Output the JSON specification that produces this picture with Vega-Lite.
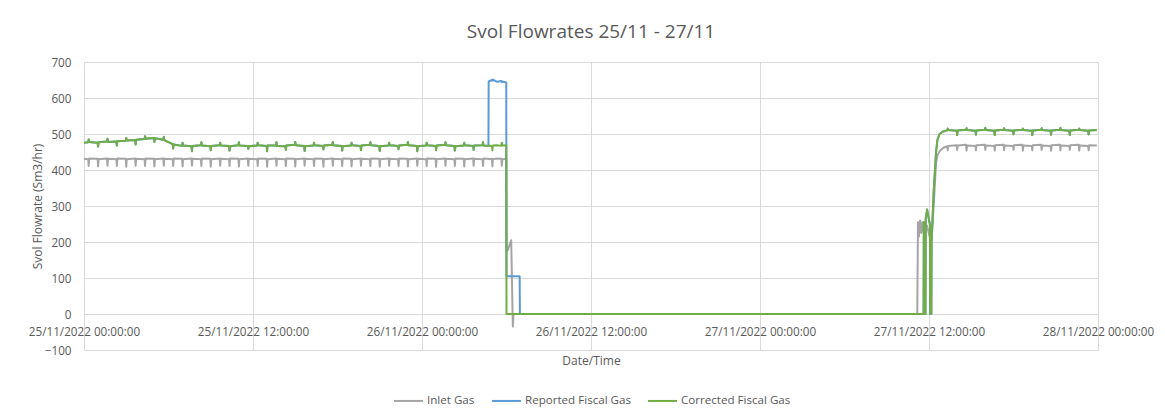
{
"$schema": "https://vega.github.io/schema/vega-lite/v6.json",
"width": 1014,
"height": 288,
"autosize": {"type": "none"},
"padding": {"left": 84, "top": 62, "right": 67, "bottom": 69},
"background": "white",
"title": {"text": "Svol Flowrates 25/11 - 27/11", "font": "Open Sans", "fontSize": 19, "fontWeight": "normal", "color": "#595959", "offset": 15},
"data": {"values": [
{"t":"2022-11-25T00:00","i":431,"r":476,"c":476},
{"t":"2022-11-25T00:18","i":430,"r":477,"c":477},
{"t":"2022-11-25T00:20","i":411,"r":485,"c":485},
{"t":"2022-11-25T00:22","i":432,"r":478,"c":478},
{"t":"2022-11-25T00:58","i":431,"r":476,"c":476},
{"t":"2022-11-25T01:00","i":410,"r":465,"c":465},
{"t":"2022-11-25T01:02","i":430,"r":477,"c":477},
{"t":"2022-11-25T01:38","i":432,"r":479,"c":479},
{"t":"2022-11-25T01:40","i":412,"r":487,"c":487},
{"t":"2022-11-25T01:42","i":431,"r":478,"c":478},
{"t":"2022-11-25T02:18","i":430,"r":479,"c":479},
{"t":"2022-11-25T02:20","i":411,"r":468,"c":468},
{"t":"2022-11-25T02:22","i":432,"r":480,"c":480},
{"t":"2022-11-25T02:58","i":431,"r":481,"c":481},
{"t":"2022-11-25T03:00","i":409,"r":489,"c":489},
{"t":"2022-11-25T03:02","i":430,"r":482,"c":482},
{"t":"2022-11-25T03:38","i":432,"r":483,"c":483},
{"t":"2022-11-25T03:40","i":412,"r":471,"c":471},
{"t":"2022-11-25T03:42","i":431,"r":484,"c":484},
{"t":"2022-11-25T04:18","i":430,"r":486,"c":486},
{"t":"2022-11-25T04:20","i":411,"r":494,"c":494},
{"t":"2022-11-25T04:22","i":432,"r":487,"c":487},
{"t":"2022-11-25T04:58","i":431,"r":489,"c":489},
{"t":"2022-11-25T05:00","i":410,"r":478,"c":478},
{"t":"2022-11-25T05:02","i":430,"r":488,"c":488},
{"t":"2022-11-25T05:38","i":432,"r":484,"c":484},
{"t":"2022-11-25T05:40","i":412,"r":492,"c":492},
{"t":"2022-11-25T05:42","i":431,"r":483,"c":483},
{"t":"2022-11-25T06:18","i":430,"r":472,"c":472},
{"t":"2022-11-25T06:20","i":411,"r":460,"c":460},
{"t":"2022-11-25T06:22","i":432,"r":471,"c":471},
{"t":"2022-11-25T06:58","i":431,"r":467,"c":467},
{"t":"2022-11-25T07:00","i":410,"r":476,"c":476},
{"t":"2022-11-25T07:02","i":430,"r":468,"c":468},
{"t":"2022-11-25T07:38","i":432,"r":466,"c":466},
{"t":"2022-11-25T07:40","i":412,"r":452,"c":452},
{"t":"2022-11-25T07:42","i":431,"r":467,"c":467},
{"t":"2022-11-25T08:18","i":430,"r":469,"c":469},
{"t":"2022-11-25T08:20","i":411,"r":477,"c":477},
{"t":"2022-11-25T08:22","i":432,"r":468,"c":468},
{"t":"2022-11-25T08:58","i":431,"r":466,"c":466},
{"t":"2022-11-25T09:00","i":409,"r":455,"c":455},
{"t":"2022-11-25T09:02","i":430,"r":467,"c":467},
{"t":"2022-11-25T09:38","i":432,"r":469,"c":469},
{"t":"2022-11-25T09:40","i":412,"r":476,"c":476},
{"t":"2022-11-25T09:42","i":431,"r":468,"c":468},
{"t":"2022-11-25T10:18","i":430,"r":467,"c":467},
{"t":"2022-11-25T10:20","i":411,"r":454,"c":454},
{"t":"2022-11-25T10:22","i":432,"r":466,"c":466},
{"t":"2022-11-25T10:58","i":431,"r":469,"c":469},
{"t":"2022-11-25T11:00","i":410,"r":477,"c":477},
{"t":"2022-11-25T11:02","i":430,"r":468,"c":468},
{"t":"2022-11-25T11:38","i":432,"r":467,"c":467},
{"t":"2022-11-25T11:40","i":412,"r":459,"c":459},
{"t":"2022-11-25T11:42","i":431,"r":466,"c":466},
{"t":"2022-11-25T12:18","i":430,"r":468,"c":468},
{"t":"2022-11-25T12:20","i":411,"r":476,"c":476},
{"t":"2022-11-25T12:22","i":432,"r":469,"c":469},
{"t":"2022-11-25T12:58","i":431,"r":467,"c":467},
{"t":"2022-11-25T13:00","i":409,"r":452,"c":452},
{"t":"2022-11-25T13:02","i":430,"r":468,"c":468},
{"t":"2022-11-25T13:38","i":432,"r":469,"c":469},
{"t":"2022-11-25T13:40","i":412,"r":477,"c":477},
{"t":"2022-11-25T13:42","i":431,"r":467,"c":467},
{"t":"2022-11-25T14:18","i":430,"r":466,"c":466},
{"t":"2022-11-25T14:20","i":411,"r":456,"c":456},
{"t":"2022-11-25T14:22","i":432,"r":468,"c":468},
{"t":"2022-11-25T14:58","i":431,"r":470,"c":470},
{"t":"2022-11-25T15:00","i":410,"r":478,"c":478},
{"t":"2022-11-25T15:02","i":430,"r":469,"c":469},
{"t":"2022-11-25T15:38","i":432,"r":467,"c":467},
{"t":"2022-11-25T15:40","i":412,"r":453,"c":453},
{"t":"2022-11-25T15:42","i":431,"r":466,"c":466},
{"t":"2022-11-25T16:18","i":430,"r":468,"c":468},
{"t":"2022-11-25T16:20","i":411,"r":476,"c":476},
{"t":"2022-11-25T16:22","i":432,"r":469,"c":469},
{"t":"2022-11-25T16:58","i":431,"r":467,"c":467},
{"t":"2022-11-25T17:00","i":409,"r":457,"c":457},
{"t":"2022-11-25T17:02","i":430,"r":468,"c":468},
{"t":"2022-11-25T17:38","i":432,"r":470,"c":470},
{"t":"2022-11-25T17:40","i":412,"r":478,"c":478},
{"t":"2022-11-25T17:42","i":431,"r":469,"c":469},
{"t":"2022-11-25T18:18","i":430,"r":467,"c":467},
{"t":"2022-11-25T18:20","i":411,"r":454,"c":454},
{"t":"2022-11-25T18:22","i":432,"r":466,"c":466},
{"t":"2022-11-25T18:58","i":431,"r":468,"c":468},
{"t":"2022-11-25T19:00","i":410,"r":476,"c":476},
{"t":"2022-11-25T19:02","i":430,"r":469,"c":469},
{"t":"2022-11-25T19:38","i":432,"r":467,"c":467},
{"t":"2022-11-25T19:40","i":412,"r":455,"c":455},
{"t":"2022-11-25T19:42","i":431,"r":468,"c":468},
{"t":"2022-11-25T20:18","i":430,"r":470,"c":470},
{"t":"2022-11-25T20:20","i":411,"r":477,"c":477},
{"t":"2022-11-25T20:22","i":432,"r":469,"c":469},
{"t":"2022-11-25T20:58","i":431,"r":467,"c":467},
{"t":"2022-11-25T21:00","i":409,"r":453,"c":453},
{"t":"2022-11-25T21:02","i":430,"r":466,"c":466},
{"t":"2022-11-25T21:38","i":432,"r":468,"c":468},
{"t":"2022-11-25T21:40","i":412,"r":476,"c":476},
{"t":"2022-11-25T21:42","i":431,"r":469,"c":469},
{"t":"2022-11-25T22:18","i":430,"r":467,"c":467},
{"t":"2022-11-25T22:20","i":411,"r":458,"c":458},
{"t":"2022-11-25T22:22","i":432,"r":468,"c":468},
{"t":"2022-11-25T22:58","i":431,"r":470,"c":470},
{"t":"2022-11-25T23:00","i":410,"r":478,"c":478},
{"t":"2022-11-25T23:02","i":430,"r":469,"c":469},
{"t":"2022-11-25T23:38","i":432,"r":467,"c":467},
{"t":"2022-11-25T23:40","i":412,"r":452,"c":452},
{"t":"2022-11-25T23:42","i":431,"r":466,"c":466},
{"t":"2022-11-26T00:18","i":430,"r":468,"c":468},
{"t":"2022-11-26T00:20","i":411,"r":476,"c":476},
{"t":"2022-11-26T00:22","i":432,"r":469,"c":469},
{"t":"2022-11-26T00:58","i":431,"r":467,"c":467},
{"t":"2022-11-26T01:00","i":409,"r":455,"c":455},
{"t":"2022-11-26T01:02","i":430,"r":468,"c":468},
{"t":"2022-11-26T01:38","i":432,"r":470,"c":470},
{"t":"2022-11-26T01:40","i":412,"r":477,"c":477},
{"t":"2022-11-26T01:42","i":431,"r":469,"c":469},
{"t":"2022-11-26T02:18","i":430,"r":467,"c":467},
{"t":"2022-11-26T02:20","i":411,"r":454,"c":454},
{"t":"2022-11-26T02:22","i":432,"r":466,"c":466},
{"t":"2022-11-26T02:58","i":431,"r":468,"c":468},
{"t":"2022-11-26T03:00","i":410,"r":476,"c":476},
{"t":"2022-11-26T03:02","i":430,"r":469,"c":469},
{"t":"2022-11-26T03:38","i":432,"r":467,"c":467},
{"t":"2022-11-26T03:40","i":412,"r":456,"c":456},
{"t":"2022-11-26T03:42","i":431,"r":468,"c":468},
{"t":"2022-11-26T04:18","i":430,"r":469,"c":469},
{"t":"2022-11-26T04:20","i":411,"r":477,"c":477},
{"t":"2022-11-26T04:22","i":432,"r":468,"c":468},
{"t":"2022-11-26T04:43","i":431,"r":467,"c":467},
{"t":"2022-11-26T04:44","i":430,"r":646,"c":468},
{"t":"2022-11-26T04:58","i":431,"r":650,"c":467},
{"t":"2022-11-26T05:00","i":410,"r":648,"c":455},
{"t":"2022-11-26T05:02","i":430,"r":651,"c":468},
{"t":"2022-11-26T05:20","i":432,"r":645,"c":469},
{"t":"2022-11-26T05:38","i":431,"r":647,"c":467},
{"t":"2022-11-26T05:40","i":412,"r":644,"c":476},
{"t":"2022-11-26T05:42","i":430,"r":646,"c":468},
{"t":"2022-11-26T05:59","i":431,"r":643,"c":469},
{"t":"2022-11-26T06:00","i":175,"r":105,"c":0},
{"t":"2022-11-26T06:06","i":178,"r":105,"c":0},
{"t":"2022-11-26T06:20","i":205,"r":105,"c":0},
{"t":"2022-11-26T06:27","i":-35,"r":105,"c":0},
{"t":"2022-11-26T06:30","i":0,"r":105,"c":0},
{"t":"2022-11-26T06:56","i":0,"r":105,"c":0},
{"t":"2022-11-26T06:57","i":0,"r":0,"c":0},
{"t":"2022-11-27T11:10","i":0,"r":0,"c":0},
{"t":"2022-11-27T11:13","i":255,"r":0,"c":0},
{"t":"2022-11-27T11:17","i":215,"r":0,"c":0},
{"t":"2022-11-27T11:22","i":260,"r":0,"c":0},
{"t":"2022-11-27T11:27","i":225,"r":0,"c":0},
{"t":"2022-11-27T11:32","i":255,"r":0,"c":0},
{"t":"2022-11-27T11:37","i":228,"r":0,"c":0},
{"t":"2022-11-27T11:38","i":240,"r":255,"c":255},
{"t":"2022-11-27T11:43","i":232,"r":250,"c":250},
{"t":"2022-11-27T11:44","i":236,"r":0,"c":0},
{"t":"2022-11-27T11:45","i":240,"r":0,"c":0},
{"t":"2022-11-27T11:46","i":250,"r":265,"c":265},
{"t":"2022-11-27T11:52","i":245,"r":290,"c":290},
{"t":"2022-11-27T11:57","i":230,"r":272,"c":272},
{"t":"2022-11-27T12:04","i":212,"r":248,"c":248},
{"t":"2022-11-27T12:05","i":208,"r":0,"c":0},
{"t":"2022-11-27T12:10","i":205,"r":0,"c":0},
{"t":"2022-11-27T12:11","i":215,"r":200,"c":200},
{"t":"2022-11-27T12:20","i":300,"r":340,"c":340},
{"t":"2022-11-27T12:30","i":420,"r":450,"c":450},
{"t":"2022-11-27T12:36","i":440,"r":484,"c":484},
{"t":"2022-11-27T12:45","i":452,"r":500,"c":500},
{"t":"2022-11-27T13:00","i":461,"r":507,"c":507},
{"t":"2022-11-27T13:18","i":466,"r":510,"c":510},
{"t":"2022-11-27T13:20","i":455,"r":515,"c":515},
{"t":"2022-11-27T13:22","i":467,"r":511,"c":511},
{"t":"2022-11-27T13:58","i":469,"r":509,"c":509},
{"t":"2022-11-27T14:00","i":456,"r":497,"c":497},
{"t":"2022-11-27T14:02","i":468,"r":510,"c":510},
{"t":"2022-11-27T14:38","i":470,"r":512,"c":512},
{"t":"2022-11-27T14:40","i":454,"r":516,"c":516},
{"t":"2022-11-27T14:42","i":468,"r":511,"c":511},
{"t":"2022-11-27T15:18","i":467,"r":509,"c":509},
{"t":"2022-11-27T15:20","i":455,"r":498,"c":498},
{"t":"2022-11-27T15:22","i":469,"r":510,"c":510},
{"t":"2022-11-27T15:58","i":470,"r":512,"c":512},
{"t":"2022-11-27T16:00","i":456,"r":517,"c":517},
{"t":"2022-11-27T16:02","i":468,"r":511,"c":511},
{"t":"2022-11-27T16:38","i":467,"r":509,"c":509},
{"t":"2022-11-27T16:40","i":454,"r":497,"c":497},
{"t":"2022-11-27T16:42","i":469,"r":510,"c":510},
{"t":"2022-11-27T17:18","i":470,"r":512,"c":512},
{"t":"2022-11-27T17:20","i":455,"r":516,"c":516},
{"t":"2022-11-27T17:22","i":468,"r":511,"c":511},
{"t":"2022-11-27T17:58","i":467,"r":509,"c":509},
{"t":"2022-11-27T18:00","i":456,"r":499,"c":499},
{"t":"2022-11-27T18:02","i":469,"r":510,"c":510},
{"t":"2022-11-27T18:38","i":470,"r":512,"c":512},
{"t":"2022-11-27T18:40","i":454,"r":515,"c":515},
{"t":"2022-11-27T18:42","i":468,"r":511,"c":511},
{"t":"2022-11-27T19:18","i":467,"r":509,"c":509},
{"t":"2022-11-27T19:20","i":455,"r":497,"c":497},
{"t":"2022-11-27T19:22","i":469,"r":510,"c":510},
{"t":"2022-11-27T19:58","i":470,"r":512,"c":512},
{"t":"2022-11-27T20:00","i":456,"r":516,"c":516},
{"t":"2022-11-27T20:02","i":468,"r":511,"c":511},
{"t":"2022-11-27T20:38","i":467,"r":509,"c":509},
{"t":"2022-11-27T20:40","i":454,"r":498,"c":498},
{"t":"2022-11-27T20:42","i":469,"r":510,"c":510},
{"t":"2022-11-27T21:18","i":470,"r":512,"c":512},
{"t":"2022-11-27T21:20","i":455,"r":517,"c":517},
{"t":"2022-11-27T21:22","i":468,"r":511,"c":511},
{"t":"2022-11-27T21:58","i":467,"r":509,"c":509},
{"t":"2022-11-27T22:00","i":456,"r":497,"c":497},
{"t":"2022-11-27T22:02","i":469,"r":510,"c":510},
{"t":"2022-11-27T22:38","i":470,"r":512,"c":512},
{"t":"2022-11-27T22:40","i":454,"r":515,"c":515},
{"t":"2022-11-27T22:42","i":468,"r":511,"c":511},
{"t":"2022-11-27T23:18","i":467,"r":509,"c":509},
{"t":"2022-11-27T23:20","i":455,"r":499,"c":499},
{"t":"2022-11-27T23:22","i":469,"r":510,"c":510},
{"t":"2022-11-27T23:55","i":468,"r":511,"c":511}
]},
"encoding": {
  "x": {
    "field": "t", "type": "temporal", "title": "Date/Time",
    "scale": {"domain": [{"year": 2022, "month": 11, "date": 25, "hours": 0}, {"year": 2022, "month": 11, "date": 28, "hours": 0}]},
    "axis": {
      "values": [
        {"year": 2022, "month": 11, "date": 25, "hours": 0},
        {"year": 2022, "month": 11, "date": 25, "hours": 12},
        {"year": 2022, "month": 11, "date": 26, "hours": 0},
        {"year": 2022, "month": 11, "date": 26, "hours": 12},
        {"year": 2022, "month": 11, "date": 27, "hours": 0},
        {"year": 2022, "month": 11, "date": 27, "hours": 12},
        {"year": 2022, "month": 11, "date": 28, "hours": 0}
      ],
      "format": "%d/%m/%Y %H:%M:%S",
      "grid": true, "gridColor": "#d9d9d9", "gridWidth": 1,
      "domain": false, "ticks": false,
      "labelPadding": -19, "labelBaseline": "middle", "labelFlush": false, "labelOverlap": false,
      "labelFont": "Open Sans", "labelFontSize": 11.7, "labelColor": "#595959",
      "titleFont": "Open Sans", "titleFontSize": 12, "titleFontWeight": "normal", "titleColor": "#595959", "titlePadding": 5
    }
  }
},
"layer": [
  {
    "mark": {"type": "line", "strokeWidth": 2, "strokeJoin": "round"},
    "encoding": {
      "y": {"field": "i", "type": "quantitative", "title": "Svol Flowrate (Sm3/hr)",
        "scale": {"domain": [-100, 700], "nice": false, "zero": false},
        "axis": {"values": [-100, 0, 100, 200, 300, 400, 500, 600, 700], "tickCount": 9,
          "grid": true, "gridColor": "#d9d9d9", "domain": false, "ticks": false, "labelPadding": 13, "labelOverlap": false,
          "labelFont": "Open Sans", "labelFontSize": 11.7, "labelColor": "#595959",
          "titleFont": "Open Sans", "titleFontSize": 12, "titleFontWeight": "normal", "titleColor": "#595959", "titlePadding": 0}},
      "color": {"datum": "Inlet Gas", "type": "nominal",
        "scale": {"domain": ["Inlet Gas", "Reported Fiscal Gas", "Corrected Fiscal Gas"], "range": ["#a5a5a5", "#5b9bd5", "#70ad47"]},
        "legend": {"title": null, "orient": "none", "direction": "horizontal", "legendX": 309, "legendY": 323,
          "symbolType": "stroke", "symbolSize": 841, "symbolStrokeWidth": 2, "labelOffset": 3, "columnPadding": 13,
          "labelFont": "Open Sans", "labelFontSize": 11.6, "labelColor": "#595959"}}
    }
  },
  {
    "mark": {"type": "line", "strokeWidth": 2, "strokeJoin": "round"},
    "encoding": {
      "y": {"field": "r", "type": "quantitative", "title": "Svol Flowrate (Sm3/hr)",
        "axis": {"values": [-100, 0, 100, 200, 300, 400, 500, 600, 700], "tickCount": 9,
          "grid": true, "gridColor": "#d9d9d9", "domain": false, "ticks": false, "labelPadding": 13, "labelOverlap": false,
          "labelFont": "Open Sans", "labelFontSize": 11.7, "labelColor": "#595959",
          "titleFont": "Open Sans", "titleFontSize": 12, "titleFontWeight": "normal", "titleColor": "#595959", "titlePadding": 0}},
      "color": {"datum": "Reported Fiscal Gas", "type": "nominal"}
    }
  },
  {
    "mark": {"type": "line", "strokeWidth": 2, "strokeJoin": "round"},
    "encoding": {
      "y": {"field": "c", "type": "quantitative", "title": "Svol Flowrate (Sm3/hr)",
        "axis": {"values": [-100, 0, 100, 200, 300, 400, 500, 600, 700], "tickCount": 9,
          "grid": true, "gridColor": "#d9d9d9", "domain": false, "ticks": false, "labelPadding": 13, "labelOverlap": false,
          "labelFont": "Open Sans", "labelFontSize": 11.7, "labelColor": "#595959",
          "titleFont": "Open Sans", "titleFontSize": 12, "titleFontWeight": "normal", "titleColor": "#595959", "titlePadding": 0}},
      "color": {"datum": "Corrected Fiscal Gas", "type": "nominal"}
    }
  }
],
"config": {"view": {"stroke": null}, "axisY": {"labelOverlap": false}, "axisQuantitative": {"labelOverlap": false}}
}
